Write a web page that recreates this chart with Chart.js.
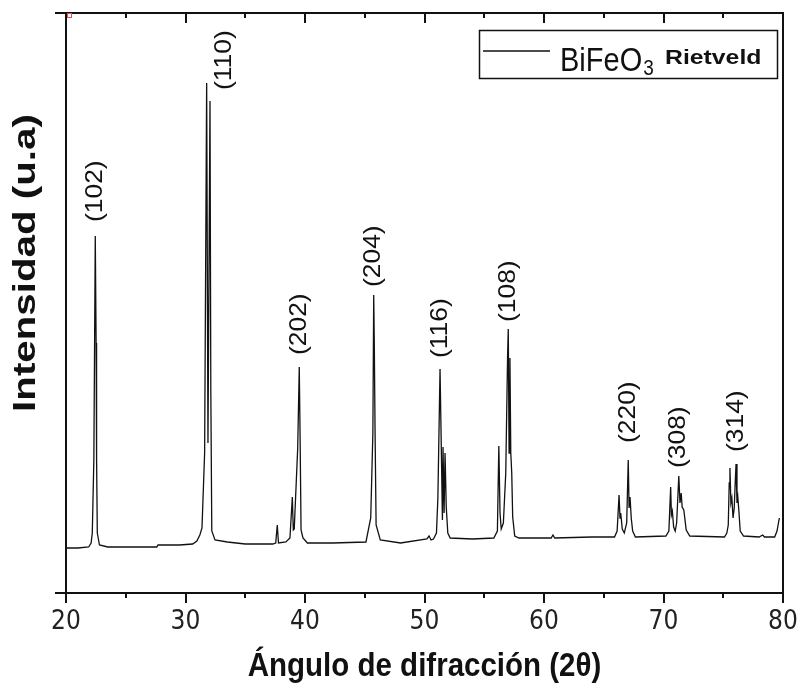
<!DOCTYPE html>
<html>
<head>
<meta charset="utf-8">
<title>BiFeO3 - DRX</title>
<style>
  html, body { margin: 0; padding: 0; background: #fff; }
  #wrap { width: 800px; height: 684px; }
</style>
</head>
<body>
<div id="wrap"><canvas id="chart" width="800" height="684"></canvas></div>
<script src="https://cdn.jsdelivr.net/npm/chart.js@4/dist/chart.umd.min.js"></script>
<script>
// patron de difraccion, 2theta (grados) vs intensidad (u.a)
var angle2theta = [
  20.0, 21.0, 21.9, 22.1, 22.2, 22.33, 22.45, 22.52, 22.56, 22.62, 22.8, 23.5, 25.0, 27.6, 27.7, 29.5,
  30.6, 30.95, 31.2, 31.38, 31.6, 31.77, 31.88, 32.05, 32.12, 32.2, 32.47, 33.5, 35.0,
  37.3, 37.55, 37.68, 37.78, 38.4, 38.74, 38.94, 39.02, 39.1, 39.39, 39.52, 39.6, 39.67, 39.83, 40.2, 42.3,
  45.1, 45.5, 45.68, 45.75, 45.8, 45.86, 45.95, 46.3, 48.0,
  50.2, 50.38, 50.55, 50.75, 51.0, 51.12, 51.3, 51.4, 51.5, 51.55, 51.64, 51.72, 51.82, 51.95, 52.15, 54.0,
  55.8, 56.1, 56.22, 56.32, 56.42, 56.6, 56.8, 56.95, 57.01, 57.08, 57.15, 57.22, 57.3, 57.38, 57.55, 57.9,
  60.6, 60.75, 60.9, 64.0,
  65.9, 66.12, 66.28, 66.36, 66.42, 66.55, 66.72, 66.92, 67.05, 67.12, 67.2, 67.3, 67.42, 67.65,
  70.2, 70.45, 70.6, 70.66, 70.74, 70.85, 70.98, 71.1, 71.28, 71.38, 71.48, 71.56, 71.7, 71.9, 72.2,
  75.1, 75.3, 75.42, 75.5, 75.56, 75.64, 75.72, 75.82, 75.92, 76.0, 76.07, 76.15, 76.22, 76.32, 76.42, 76.7,
  78.0, 78.3, 78.45, 79.3, 79.5, 79.65, 79.7
];
var intensity = [
  45, 45, 46, 50, 60, 133, 357, 250, 133, 60, 48, 46, 46, 46, 48, 48,
  49, 52, 58, 65, 140, 510, 150, 492, 200, 62, 53, 51, 49,
  49, 50, 68, 50, 51, 55, 96, 63, 64, 145, 226, 145, 63, 55, 50, 50,
  51, 75, 160, 298, 248, 165, 68, 53, 50,
  54, 57, 53, 54, 60, 95, 224, 150, 73, 146, 80, 140, 86, 60, 55, 54,
  55, 62, 147, 80, 64, 70, 120, 235, 264, 140, 235, 140, 120, 76, 57, 55,
  55, 58, 55, 56,
  56, 62, 98, 75, 80, 64, 60, 70, 133, 85, 96, 75, 62, 56,
  57, 62, 106, 78, 82, 66, 62, 70, 117, 90, 100, 86, 83, 63, 57,
  56, 60, 68, 110, 125, 90, 95, 75, 85, 110, 129, 90, 96, 80, 62, 57,
  56, 58, 56, 56, 62, 72, 75
];

// indices de Miller y posicion de cada reflexion
var hklLabels = ['(102)', '(110)', '(202)', '(204)', '(116)', '(108)', '(220)', '(308)', '(314)'];
var hklAngles = [22.45, 31.77, 39.52, 45.75, 51.3, 57.01, 67.05, 71.28, 76.07];

var xTicks = [20, 30, 40, 50, 60, 70, 80];

var points = angle2theta.map(function(a, i) { return { x: a, y: intensity[i] }; });

function peakTop(angle) {
  var top = 0;
  for (var i = 0; i < angle2theta.length; i++) {
    if (Math.abs(angle2theta[i] - angle) < 0.2 && intensity[i] > top) top = intensity[i];
  }
  return top;
}

// marco, marcas de eje, etiquetas hkl, titulos y leyenda
var decor = {
  id: 'decor',
  afterDraw: function(chart) {
    var ctx = chart.ctx, a = chart.chartArea;
    var sx = chart.scales.x, sy = chart.scales.y;
    ctx.save();
    ctx.strokeStyle = '#111';
    ctx.lineWidth = 2;
    ctx.beginPath();
    ctx.moveTo(a.left - 11, a.top); ctx.lineTo(a.right, a.top);
    ctx.moveTo(a.left - 11, a.bottom); ctx.lineTo(a.right, a.bottom);
    ctx.moveTo(a.left, a.top); ctx.lineTo(a.left, a.bottom);
    ctx.moveTo(a.right, a.top - 1); ctx.lineTo(a.right, a.bottom + 1);
    for (var v = 20; v <= 80; v += 5) {
      var px = Math.round(sx.getPixelForValue(v));
      var len = v % 10 === 0 ? 10 : 5;
      ctx.moveTo(px, a.bottom); ctx.lineTo(px, a.bottom + len);
      ctx.moveTo(px, a.top); ctx.lineTo(px, a.top + len);
    }
    ctx.stroke();

    // marca roja de esquina
    ctx.strokeStyle = '#e05050';
    ctx.lineWidth = 1;
    ctx.strokeRect(a.left + 1.5, a.top + 0.5, 4, 4);

    // etiquetas de los picos
    var gaps = [14, 0, 12, 8, 11, 7, 17, 8, 12];
    ctx.fillStyle = '#111';
    ctx.font = '24px "Liberation Sans", Arial, sans-serif';
    ctx.textAlign = 'left';
    ctx.textBaseline = 'middle';
    hklLabels.forEach(function(lbl, i) {
      var px = sx.getPixelForValue(hklAngles[i]);
      var py = sy.getPixelForValue(peakTop(hklAngles[i]));
      var bx = px, by = py - gaps[i];
      if (i === 1) { bx = px + 18; by = py + 7; }
      ctx.save();
      ctx.translate(bx, by);
      ctx.rotate(-Math.PI / 2);
      ctx.scale(1.1, 1);
      ctx.fillText(lbl, 0, 0);
      ctx.restore();
    });

    // titulo eje y
    ctx.save();
    ctx.font = 'bold 31px "Liberation Sans", Arial, sans-serif';
    ctx.textAlign = 'center';
    ctx.textBaseline = 'alphabetic';
    ctx.translate(35, 263);
    ctx.rotate(-Math.PI / 2);
    ctx.scale(1.3, 1);
    ctx.fillText('Intensidad (u.a)', 0, 0);
    ctx.restore();

    // titulo eje x
    ctx.save();
    ctx.font = 'bold 29.5px "Liberation Sans", Arial, sans-serif';
    ctx.textAlign = 'center';
    ctx.textBaseline = 'alphabetic';
    ctx.translate((a.left + a.right) / 2, 676);
    ctx.scale(1, 1.15);
    ctx.fillText('\u00c1ngulo de difracci\u00f3n (2\u03b8)', 0, 0);
    ctx.restore();

    // leyenda
    ctx.strokeStyle = '#111';
    ctx.lineWidth = 1.5;
    ctx.strokeRect(479.5, 30.5, 298, 48);
    ctx.beginPath();
    ctx.moveTo(483, 51); ctx.lineTo(550, 51);
    ctx.stroke();
    ctx.textAlign = 'left';
    ctx.save();
    ctx.translate(560, 62);
    ctx.scale(1, 1.12);
    ctx.font = '29px "Liberation Sans", Arial, sans-serif';
    ctx.fillText('BiFeO', 0, 0);
    var w = ctx.measureText('BiFeO').width;
    ctx.font = '19px "Liberation Sans", Arial, sans-serif';
    ctx.fillText('3', w + 1, 6);
    ctx.restore();
    ctx.save();
    ctx.translate(665, 58);
    ctx.scale(1.18, 1);
    ctx.font = 'bold 21px "Liberation Sans", Arial, sans-serif';
    ctx.fillText('Rietveld', 0, 0);
    ctx.restore();

    ctx.restore();
  }
};

new Chart(document.getElementById('chart'), {
  type: 'scatter',
  data: {
    datasets: [{
      label: 'BiFeO3',
      data: points,
      showLine: true,
      borderColor: '#111',
      borderWidth: 1.3,
      pointRadius: 0,
      tension: 0,
      fill: false
    }]
  },
  options: {
    responsive: false,
    animation: false,
    layout: { padding: { left: 66, right: 17, top: 13, bottom: 0 } },
    plugins: { legend: { display: false }, tooltip: { enabled: false } },
    scales: {
      x: {
        type: 'linear',
        min: 20,
        max: 80,
        afterBuildTicks: function(scale) { scale.ticks = xTicks.map(function(v) { return { value: v }; }); },
        afterFit: function(scale) {
          scale.height = 91;
          scale.paddingLeft = 0;
          scale.paddingRight = 0;
        },
        grid: { display: false },
        border: { display: false },
        ticks: {
          color: '#222',
          padding: 6,
          maxRotation: 0,
          font: { family: '"Liberation Sans Narrow", "DejaVu Sans Condensed", sans-serif', size: 26 }
        }
      },
      y: {
        display: false,
        min: 0,
        max: 580
      }
    }
  },
  plugins: [decor]
});
</script>
</body>
</html>
